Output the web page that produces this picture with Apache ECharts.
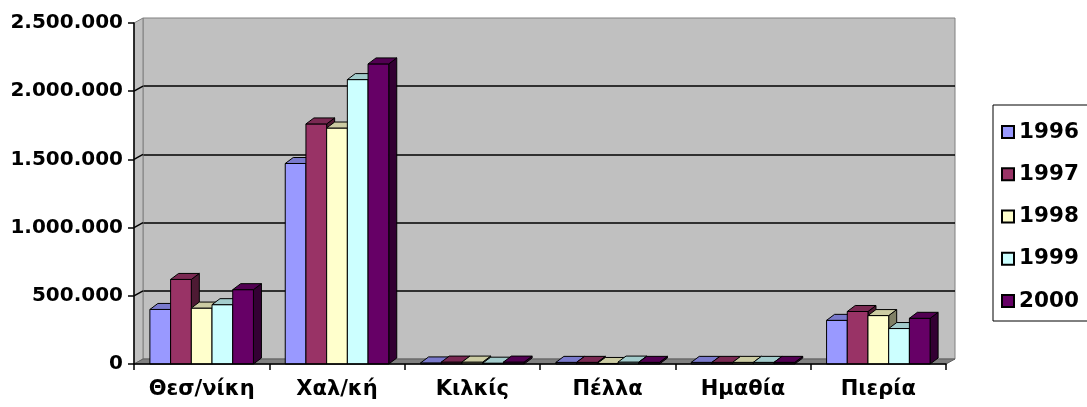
<!DOCTYPE html>
<html>
<head>
<meta charset="utf-8">
<script src="https://cdn.jsdelivr.net/npm/echarts@6/dist/echarts.min.js"></script>
<style>
  html, body { margin: 0; padding: 0; background: #fff; }
  #chart { width: 1087px; height: 407px; }
</style>
</head>
<body>
<div id="chart"></div>
<script>
// --- data ---
const categories = ['Θεσ/νίκη', 'Χαλ/κή', 'Κιλκίς', 'Πέλλα', 'Ημαθία', 'Πιερία'];
const years = ['1996', '1997', '1998', '1999', '2000'];
const v1996 = [400000, 1470000, 8000, 12000, 12000, 320000];
const v1997 = [620000, 1760000, 14000, 12000, 12000, 385000];
const v1998 = [410000, 1730000, 14000, 4000, 12000, 355000];
const v1999 = [435000, 2085000, 6000, 14000, 12000, 260000];
const v2000 = [545000, 2200000, 14000, 12000, 12000, 335000];
const yearValues = [v1996, v1997, v1998, v1999, v2000];
const yMax = 2500000;
const yStep = 500000;

const colors = ['#9999FF', '#993366', '#FFFFCC', '#CCFFFF', '#660066'];

// plot box (front) and 3D depth of the walls
const G = { left: 134, top: 23, width: 812, height: 341 };
const WALL_DX = 9, WALL_DY = 5;
const BAR_DX = 8, BAR_DY = 6;
const BAR_FRAC = 0.153;
const FONT = 'DejaVu Sans';

function shade(hex, k) {
  const n = parseInt(hex.slice(1), 16);
  const r = Math.round(((n >> 16) & 255) * k);
  const g = Math.round(((n >> 8) & 255) * k);
  const b = Math.round((n & 255) * k);
  return `rgb(${r},${g},${b})`;
}

const chart = echarts.init(document.getElementById('chart'));

const renderBar = (si) => (params, api) => {
  const cat = api.value(0);
  const val = api.value(1);
  const base = api.coord([cat, 0]);
  const top = api.coord([cat, val]);
  const w = api.size([1, 0])[0] * BAR_FRAC;
  const x0 = base[0] + (si - 2.5) * w;
  const x1 = x0 + w;
  const yb = base[1], yt = top[1];
  const c = colors[si];
  const line = { stroke: '#000', lineWidth: 1 };
  return {
    type: 'group',
    children: [
      { type: 'polygon', shape: { points: [[x1, yt], [x1 + BAR_DX, yt - BAR_DY], [x1 + BAR_DX, yb - BAR_DY], [x1, yb]] },
        style: Object.assign({ fill: shade(c, 0.5) }, line) },
      { type: 'rect', shape: { x: x0, y: yt, width: w, height: yb - yt },
        style: Object.assign({ fill: c }, line) },
      { type: 'polygon', shape: { points: [[x0, yt], [x1, yt], [x1 + BAR_DX, yt - BAR_DY], [x0 + BAR_DX, yt - BAR_DY]] },
        style: Object.assign({ fill: shade(c, 0.8) }, line) }
    ]
  };
};

// floor, left wall and the diagonal grid lines across the left wall
const bottom = G.top + G.height;
const right = G.left + G.width;
const graphics = [
  { type: 'polygon', z: 1, shape: { points: [[G.left, G.top], [G.left + WALL_DX, G.top - WALL_DY], [G.left + WALL_DX, bottom - WALL_DY], [G.left, bottom]] },
    style: { fill: '#C0C0C0', stroke: '#808080', lineWidth: 1 } },
  { type: 'polygon', z: 1, shape: { points: [[G.left, bottom], [right, bottom], [right + WALL_DX, bottom - WALL_DY], [G.left + WALL_DX, bottom - WALL_DY]] },
    style: { fill: '#808080', stroke: '#606060', lineWidth: 1 } }
];
for (let v = yStep; v < yMax; v += yStep) {
  const y = G.top + G.height * (1 - v / yMax);
  graphics.push({ type: 'line', z: 1, shape: { x1: G.left, y1: y, x2: G.left + WALL_DX, y2: y - WALL_DY },
    style: { stroke: '#000', lineWidth: 1.5 } });
}

const option = {
  backgroundColor: '#fff',
  animation: false,
  textStyle: { fontFamily: FONT },
  legend: {
    data: years,
    orient: 'vertical',
    left: 993,
    top: 105,
    padding: [16, 24, 9, 8],
    itemGap: 20.25,
    itemWidth: 12,
    itemHeight: 12,
    icon: 'rect',
    borderColor: '#000',
    borderWidth: 1,
    backgroundColor: '#fff',
    textStyle: { fontFamily: FONT, fontWeight: 'bold', fontSize: 21.5, color: '#000' }
  },
  grid: [
    { left: G.left, top: G.top, width: G.width, height: G.height, show: false },
    { left: G.left + WALL_DX, top: G.top - WALL_DY, width: G.width, height: G.height,
      show: true, backgroundColor: '#C0C0C0', borderColor: '#808080', borderWidth: 1 }
  ],
  xAxis: [
    { type: 'category', data: categories, gridIndex: 0, z: 5,
      axisLine: { lineStyle: { color: '#000', width: 1.5 } },
      axisTick: { show: true, length: 6, lineStyle: { color: '#000', width: 1.5 } },
      axisLabel: { interval: 0, hideOverlap: false, margin: 15, fontFamily: FONT, fontWeight: 'bold', fontSize: 21, color: '#000' } },
    { type: 'category', data: categories, gridIndex: 1, show: false }
  ],
  yAxis: [
    { type: 'value', gridIndex: 0, min: 0, max: yMax, interval: yStep, z: 5,
      axisLine: { show: true, lineStyle: { color: '#000', width: 1.5 } },
      axisTick: { show: true, length: 6, lineStyle: { color: '#000', width: 1.5 } },
      splitLine: { show: false },
      axisLabel: { margin: 11, fontFamily: FONT, fontWeight: 'bold', fontSize: 20, color: '#000',
        formatter: (v) => v.toLocaleString('de-DE') } },
    { type: 'value', gridIndex: 1, min: 0, max: yMax, interval: yStep,
      axisLine: { show: false }, axisTick: { show: false }, axisLabel: { show: false },
      splitLine: { show: true, showMinLine: false, showMaxLine: false, lineStyle: { color: '#000', width: 1.5 } } }
  ],
  graphic: graphics,
  series: years.map((y, si) => ({
    type: 'custom',
    name: y,
    xAxisIndex: 0,
    yAxisIndex: 0,
    z: 3,
    itemStyle: { color: colors[si], borderColor: '#000', borderWidth: 1 },
    renderItem: renderBar(si),
    data: yearValues[si].map((v, i) => [i, v])
  }))
};

chart.setOption(option);
</script>
</body>
</html>
